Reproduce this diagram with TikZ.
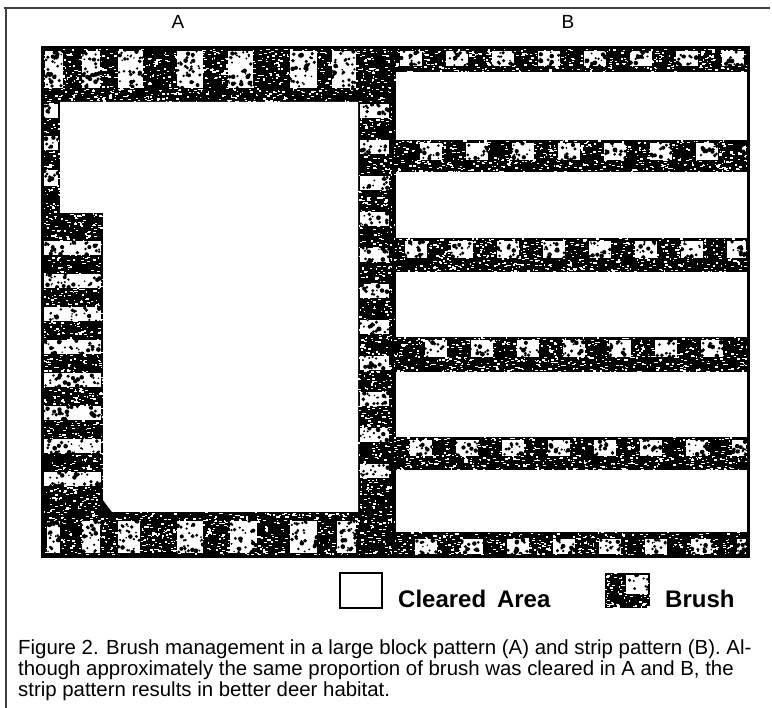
\documentclass[tikz,border=0pt]{standalone}
\usepackage{fontspec}
\setmainfont{Liberation Sans}
\newcommand\specks[5]{\foreach \k in {1,...,#5}{\pgfmathsetmacro\sx{#1+rnd*(#3-#1)}\pgfmathsetmacro\sy{#2+rnd*(#4-#2)}\pgfmathsetmacro\sw{1+rnd*2.4}\fill[white] (\sx,\sy) rectangle ++(\sw,1.3);}}
\newcommand\lightblk[5]{\fill[white] (#1,#2) rectangle (#3,#4);
\begin{scope}\clip (#1,#2) rectangle (#3,#4);
\foreach \k in {1,...,#5}{\pgfmathsetmacro\sx{#1+rnd*(#3-#1)}\pgfmathsetmacro\sy{#2+rnd*(#4-#2)}\pgfmathsetmacro\sr{0.8+rnd*1.6}\fill[black] (\sx,\sy) circle[radius=\sr pt];}
\end{scope}}
\begin{document}
\begin{tikzpicture}[x=1pt,y=-1pt,
  panellabel/.style={font=\fontsize{19}{19}\selectfont, anchor=base, inner sep=0pt},
  legendtext/.style={font=\bfseries\fontsize{24}{24}\selectfont, anchor=base west, inner sep=0pt},
  captionline/.style={font=\fontsize{20.4}{20.4}\selectfont, anchor=base west, inner sep=0pt},
  frameline/.style={draw=black!75, line width=1.2pt},
  cleared/.style={fill=white}]
\useasboundingbox (0,0) rectangle (772,708);
\fill[white] (0,0) rectangle (772,708);
\pgfmathsetseed{7}
% outer frame
\draw[frameline] (4,8) -- (770,8);
\draw[frameline] (6,8) -- (6,708);
% labels
\node[panellabel] (labA) at (178,29) {A};
\node[panellabel] (labB) at (568,29) {B};
% brush base
\fill[black] (42,48) rectangle (748,557);
% specks in dark regions
\specks{42}{48}{393}{102}{950}
\specks{42}{102}{60}{213}{110}
\specks{42}{213}{103}{512}{850}
\specks{358}{102}{393}{512}{700}
\specks{42}{512}{393}{557}{800}
\specks{393}{48}{748}{72}{420}
\specks{393}{140}{748}{172}{580}
\specks{393}{238}{748}{272}{620}
\specks{393}{337}{748}{372}{640}
\specks{393}{437}{748}{470}{600}
\specks{393}{532}{748}{557}{440}
% A top light blocks
\foreach \a/\b in {45/63,82/100,118/143,177/203,228/253,290/317,332/356}{\lightblk{\a}{51}{\b}{88}{32}}
% A bottom light blocks
\foreach \a/\b in {47/60,82/100,118/140,177/203,230/257,290/317,337/356}{\lightblk{\a}{521}{\b}{553}{30}}
% A left narrow
\foreach \a/\b in {104/118,136/150,170/186}{\lightblk{44}{\a}{58}{\b}{8}}
% A left wide stripes
\foreach \a in {241,274,307,340,373,406,439,472}{\lightblk{44}{\a}{101}{\a+14}{28}}
% A right stripes
\foreach \a in {104,140,176,212,248,284,320,356,392,428,464}{\lightblk{360}{\a}{389}{\a+14}{16}}
% B bands light blocks
\foreach \ya/\yb/\off in {51/66/400,143/160/420,241/258/405,340/357/425,440/456/410,539/554/415}{
  \foreach \j in {0,...,7}{
    \pgfmathsetmacro\xa{\off+46*\j}
    \pgfmathsetmacro\xb{min(\xa+22,746)}
    \lightblk{\xa}{\ya}{\xb}{\yb}{14}
  }
}
% cleared areas
\fill[cleared] (60,102) -- (358,102) -- (358,512) -- (112,512) -- (103,500) -- (103,213) -- (60,213) -- cycle;
\foreach \ya/\yb in {72/140,172/238,272/337,372/437,470/532}{\fill[cleared] (396,\ya) rectangle (747,\yb);}
% lines
\draw[line width=2.6pt] (393,48) -- (393,557);
\draw[line width=3pt] (42,48) rectangle (748,557);
% legend
\draw[line width=1.6pt] (340,573) rectangle (382,608);
\node[legendtext] (legC) at (398,608) {Cleared\hspace{0.45em}Area};
\fill[black] (605,573) rectangle (650,608);
\specks{605}{573}{650}{608}{90}
\lightblk{626}{575}{648}{594}{10}
\node[legendtext] (legB) at (665,608) {Brush};
% caption
\node[captionline] (cap1) at (18,655) {Figure 2. Brush management in a large block pattern (A) and strip pattern (B). Al-};
\node[captionline] (cap2) at (18,675.5) {though approximately the same proportion of brush was cleared in A and B, the};
\node[captionline] (cap3) at (18,696) {strip pattern results in better deer habitat.};
\end{tikzpicture}
\end{document}
